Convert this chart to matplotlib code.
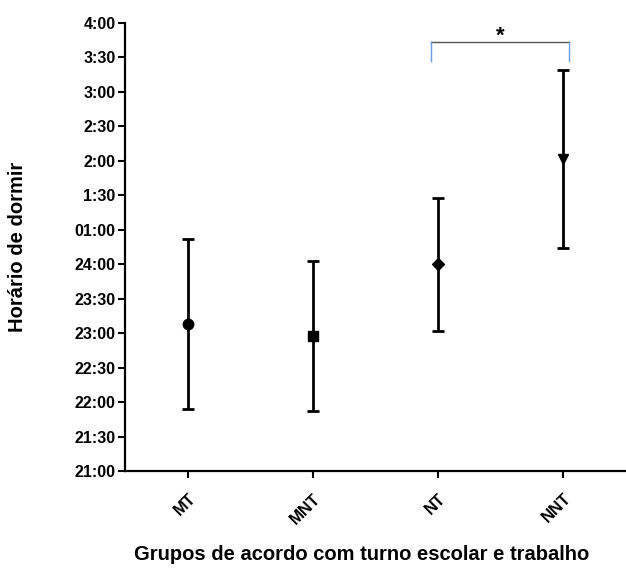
import matplotlib
matplotlib.use("Agg")
import matplotlib.pyplot as plt

plt.rcParams['font.family'] = ['Liberation Sans', 'DejaVu Sans']
plt.rcParams['font.weight'] = 'bold'

groups = ['MT', 'MNT', 'NT', 'NNT']
# bedtime in hours (24 = midnight), mean and standard deviation
means = [23.14, 22.96, 24.00, 25.52]
sds = [1.23, 1.09, 0.965, 1.29]
markers = ['o', 's', 'D', 'v']
msizes = [7.5, 7, 6.5, 7.5]

ytick_vals = [21 + 0.5 * i for i in range(14)]
ytick_labels = ['21:00', '21:30', '22:00', '22:30', '23:00', '23:30', '24:00',
                '01:00', '1:30', '2:00', '2:30', '3:00', '3:30', '4:00']

fig = plt.figure(figsize=(6.26, 5.71), dpi=100)
ax = fig.add_axes([0.2, 0.1743, 0.8, 0.7859])

for i, (m, s) in enumerate(zip(means, sds)):
    ax.errorbar(i, m, yerr=s, fmt=markers[i], color='black', ms=msizes[i],
                elinewidth=2, capsize=4.5, capthick=2)

ax.set_xlim(-0.5, 3.5)
ax.set_ylim(21, 27.5)
ax.set_yticks(ytick_vals)
ax.set_yticklabels(ytick_labels, fontsize=11.5, fontweight='bold')
ax.set_xticks(range(len(groups)))
ax.set_xticklabels(groups, rotation=45, ha='right', rotation_mode='anchor',
                   fontsize=12, fontweight='bold')

for side in ['top', 'right']:
    ax.spines[side].set_visible(False)
for side in ['left', 'bottom']:
    ax.spines[side].set_linewidth(1.6)
ax.tick_params(direction='out', length=5, width=1.5, pad=2)
ax.tick_params(axis='x', pad=9)

ax.set_ylabel('Horário de dormir', fontsize=14.5, fontweight='bold', labelpad=34)
ax.set_xlabel('Grupos de acordo com turno escolar e trabalho', fontsize=14.5,
              fontweight='bold')
ax.xaxis.set_label_coords(0.473, -0.163)

# significance bracket between NT and NNT
x0, x1 = 1.946, 3.046
ytop, ybot = 27.217, 26.95
ax.plot([x0, x1], [ytop, ytop], color='#555555', lw=1, clip_on=False)
ax.plot([x0, x0], [ytop, ybot], color='#6a9be0', lw=1, clip_on=False)
ax.plot([x1, x1], [ytop, ybot], color='#6a9be0', lw=1, clip_on=False)
ax.text((x0 + x1) / 2, 27.15, '*', ha='center', va='bottom', fontsize=16,
        fontweight='bold', clip_on=False)

fig.savefig('out.png', dpi=100)
